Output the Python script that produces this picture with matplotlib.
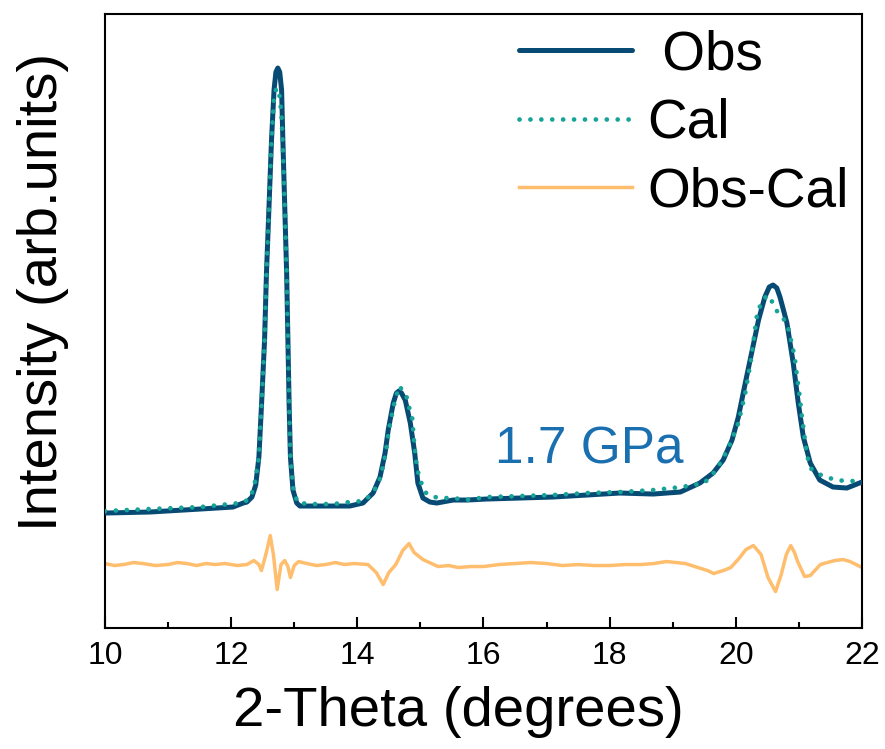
import matplotlib
matplotlib.use("Agg")
import matplotlib.pyplot as plt
from matplotlib.ticker import MultipleLocator

plt.rcParams['font.family'] = ['Liberation Sans', 'DejaVu Sans']

# observed pattern (2-theta, intensity in arb. units)
obs_x = [10.00, 10.71, 11.51, 12.03, 12.19, 12.25, 12.33, 12.39, 12.44, 12.48,
         12.53, 12.56, 12.60, 12.64, 12.68, 12.71, 12.74, 12.77, 12.80, 12.82,
         12.85, 12.88, 12.90, 12.92, 12.94, 12.98, 13.04, 13.09, 13.30, 13.62,
         13.88, 14.09, 14.25, 14.36, 14.44, 14.49, 14.57, 14.62, 14.66, 14.70,
         14.76, 14.84, 14.91, 14.96, 15.04, 15.15, 15.26, 15.52, 15.74, 16.05,
         16.58, 17.10, 17.64, 18.16, 18.69, 19.12, 19.43, 19.64, 19.80, 19.94,
         20.04, 20.15, 20.26, 20.36, 20.46, 20.53, 20.59, 20.65, 20.70, 20.81,
         20.91, 20.99, 21.07, 21.18, 21.33, 21.54, 21.76, 22.00]
obs_y = [-1, 0, 3, 5, 9, 10, 15, 27, 55, 105,
         172, 239, 305, 372, 422, 440, 444, 440, 422, 372,
         305, 239, 172, 105, 55, 22, 9, 6, 6, 6,
         6, 9, 19, 35, 59, 82, 109, 119, 121, 119,
         112, 89, 59, 29, 14, 10, 9, 12, 12, 13,
         14, 15, 17, 19, 18, 20, 29, 39, 52, 72,
         95, 129, 162, 192, 215, 225, 227, 224, 215, 189,
         149, 109, 75, 49, 32, 25, 24, 30]

# calculated pattern
cal_x = [10.00, 10.71, 11.51, 12.14, 12.27, 12.36, 12.44, 12.48, 12.53, 12.56,
         12.60, 12.64, 12.68, 12.71, 12.74, 12.77, 12.80, 12.82, 12.85, 12.88,
         12.90, 12.92, 12.94, 12.99, 13.06, 13.30, 13.62, 13.88, 14.09, 14.20,
         14.29, 14.37, 14.45, 14.50, 14.58, 14.66, 14.77, 14.82, 14.87, 14.90,
         14.94, 14.98, 15.04, 15.10, 15.28, 15.53, 15.72, 16.05, 16.58, 17.10,
         17.64, 18.16, 18.69, 19.14, 19.50, 19.69, 19.87, 20.04, 20.15, 20.24,
         20.34, 20.41, 20.50, 20.59, 20.66, 20.77, 20.84, 20.88, 20.92, 20.95,
         20.97, 21.00, 21.04, 21.07, 21.11, 21.14, 21.20, 21.35, 21.48, 21.61,
         21.74, 21.87, 22.00]
cal_y = [1, 3, 5, 9, 12, 23, 55, 105, 172, 239,
         305, 372, 415, 422, 424, 415, 395, 365, 305, 239,
         172, 105, 55, 20, 9, 8, 8, 10, 11, 16,
         24, 35, 59, 82, 107, 126, 118, 105, 94, 70,
         47, 35, 25, 18, 14, 14, 12, 15, 16, 17,
         19, 20, 22, 25, 29, 42, 62, 89, 119, 152,
         199, 210, 217, 209, 200, 192, 182, 170, 159, 147,
         135, 122, 99, 85, 65, 54, 43, 37, 34, 32,
         31, 31, 32]

# difference curve (Obs - Cal), drawn shifted below the patterns
diff_x = [10.00, 10.15, 10.30, 10.45, 10.60, 10.80, 11.00, 11.15, 11.30, 11.45,
          11.60, 11.75, 11.90, 12.10, 12.25, 12.36, 12.44, 12.48, 12.55, 12.62,
          12.67, 12.73, 12.79, 12.85, 12.90, 12.94, 13.00, 13.07, 13.20, 13.35,
          13.50, 13.65, 13.80, 13.95, 14.17, 14.30, 14.41, 14.50, 14.61, 14.72,
          14.82, 14.90, 15.04, 15.28, 15.45, 15.60, 15.80, 16.00, 16.25, 16.50,
          16.75, 17.00, 17.25, 17.50, 17.75, 18.00, 18.25, 18.50, 18.70, 18.90,
          19.05, 19.20, 19.40, 19.55, 19.65, 19.80, 19.92, 20.05, 20.16, 20.28,
          20.40, 20.51, 20.63, 20.72, 20.80, 20.87, 20.93, 20.98, 21.09, 21.18,
          21.34, 21.45, 21.57, 21.70, 21.81, 21.97]
diff_y = [1, -1, 0, 2, 1, -1, 0, 2, 1, -1,
          1, 0, 1, -1, 0, 4, 0, -6, 10, 29,
          10, -25, 0, 4, -2, -13, -1, 3, 1, -1,
          0, 2, 0, 1, 0, -8, -20, -8, 0, 14,
          21, 12, 5, -2, -1, -3, -2, -2, 0, 1,
          2, 1, -1, 0, -1, -1, 0, 0, 1, 3,
          2, 1, -3, -6, -9, -6, -3, 6, 15, 19,
          10, -13, -27, -10, 10, 19, 12, 3, -12, -11,
          0, 2, 4, 5, 3, -2]
diff_offset = -52.5

fig = plt.figure(figsize=(8.85, 7.49), dpi=100)
ax = fig.add_axes([0.1186, 0.1615, 0.8554, 0.8198])

ax.plot(diff_x, [d + diff_offset for d in diff_y], color='#ffbe6e', lw=2.5,
        label='Obs-Cal', zorder=2)
ax.plot(obs_x, obs_y, color='#074b75', lw=3.6, solid_capstyle='round',
        label=' Obs', zorder=3)
cal_line, = ax.plot(cal_x, cal_y, color='#17a398', lw=3.4,
                    dashes=[0.01, 2.3], dash_capstyle='round',
                    label='Cal', zorder=4)

ax.set_xlim(10, 22)
ax.set_ylim(-116, 498)
ax.set_yticks([])
ax.xaxis.set_major_locator(MultipleLocator(2))
ax.xaxis.set_minor_locator(MultipleLocator(1))
ax.tick_params(axis='x', which='major', direction='in', length=8, width=1.5,
               labelsize=23, pad=9)
ax.tick_params(axis='x', which='minor', direction='in', length=4, width=1.5)
for s in ax.spines.values():
    s.set_linewidth(1.5)

ax.set_xlabel('2-Theta (degrees)', fontsize=40.6)
ax.set_ylabel('Intensity (arb.units)', fontsize=40.5)
ax.xaxis.set_label_coords(0.467, -0.095)
ax.yaxis.set_label_coords(-0.048, 0.547)

ax.text(16.18, 49, '1.7 GPa', color='#1a6fb0', fontsize=37,
        ha='left', va='baseline')

handles = [ax.lines[1], cal_line, ax.lines[0]]
ax.legend(handles=handles, labels=[' Obs', 'Cal', 'Obs-Cal'], frameon=False,
          fontsize=39.5, loc='upper left', bbox_to_anchor=(0.547, 0.975),
          borderpad=0, borderaxespad=0, handlelength=2.05, handletextpad=0.29,
          labelspacing=0.3)

fig.savefig('out.png', dpi=100)
